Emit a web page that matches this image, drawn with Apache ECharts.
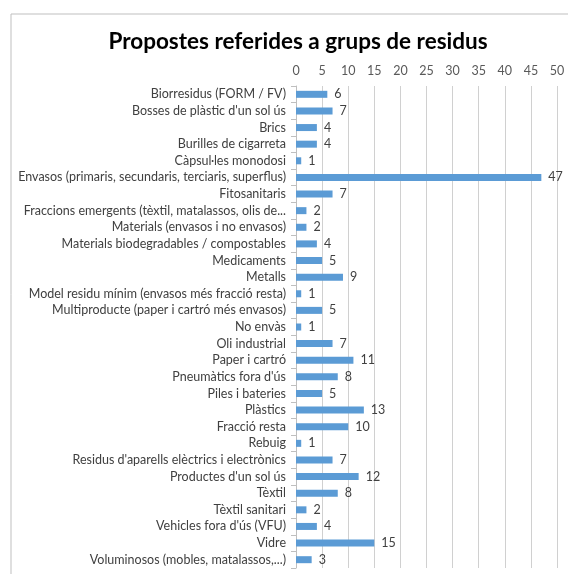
<!DOCTYPE html>
<html><head><meta charset="utf-8">
<script src="https://cdn.jsdelivr.net/npm/echarts@6/dist/echarts.min.js"></script>
<style>html,body{margin:0;padding:0;background:#fff;}#c{width:568px;height:574px;}</style>
</head><body><div id="c"></div>
<script>
const categories = [
"Biorresidus (FORM / FV)",
"Bosses de plàstic d'un sol ús",
"Brics",
"Burilles de cigarreta",
"Càpsul·les monodosi",
"Envasos (primaris, secundaris, terciaris, superflus)",
"Fitosanitaris",
"Fraccions emergents (tèxtil, matalassos, olis de...",
"Materials (envasos i no envasos)",
"Materials biodegradables / compostables",
"Medicaments",
"Metalls",
"Model residu mínim (envasos més fracció resta)",
"Multiproducte (paper i cartró més envasos)",
"No envàs",
"Oli industrial",
"Paper i cartró",
"Pneumàtics fora d'ús",
"Piles i bateries",
"Plàstics",
"Fracció resta",
"Rebuig",
"Residus d'aparells elèctrics i electrònics",
"Productes d'un sol ús",
"Tèxtil",
"Tèxtil sanitari",
"Vehicles fora d'ús (VFU)",
"Vidre",
"Voluminosos (mobles, matalassos,...)"
];
const values = [6,7,4,4,1,47,7,2,2,4,5,9,1,5,1,7,11,8,5,13,10,1,7,12,8,2,4,15,3];
const title = "Propostes referides a grups de residus";
const font = "Lato, 'Open Sans', sans-serif";
const chart = echarts.init(document.getElementById('c'), null, {renderer:'canvas'});
chart.setOption({
  animation:false,
  backgroundColor:'#fff',
  title:{text:title,left:293,top:25,textAlign:'center',textStyle:{fontFamily:font,fontSize:22.5,fontWeight:'bold',color:'#000'}},
  graphic:[{type:'rect',shape:{x:11,y:14,width:570,height:580},style:{fill:'none',stroke:'#bfbfbf',lineWidth:1},silent:true}],
  grid:{left:296,right:11,top:86,bottom:6,containLabel:false},
  xAxis:{type:'value',position:'top',min:0,max:50,interval:5,
    axisLine:{show:false},axisTick:{show:false},
    axisLabel:{fontFamily:font,fontSize:12.5,color:'#595959',margin:9},
    splitLine:{show:true,lineStyle:{color:'#d0d0d0',width:1}}},
  yAxis:{type:'category',data:categories,inverse:true,
    axisLine:{show:true,lineStyle:{color:'#bfbfbf'}},
    axisTick:{show:true,length:5,lineStyle:{color:'#bfbfbf'}},
    axisLabel:{interval:0,fontFamily:font,fontSize:12.5,color:'#404040',margin:10}},
  series:[{type:'bar',data:values,barWidth:7,itemStyle:{color:'#5b9bd5'},
    label:{show:true,position:'right',distance:7,fontFamily:font,fontSize:12.5,color:'#404040'}}]
});
</script></body></html>
